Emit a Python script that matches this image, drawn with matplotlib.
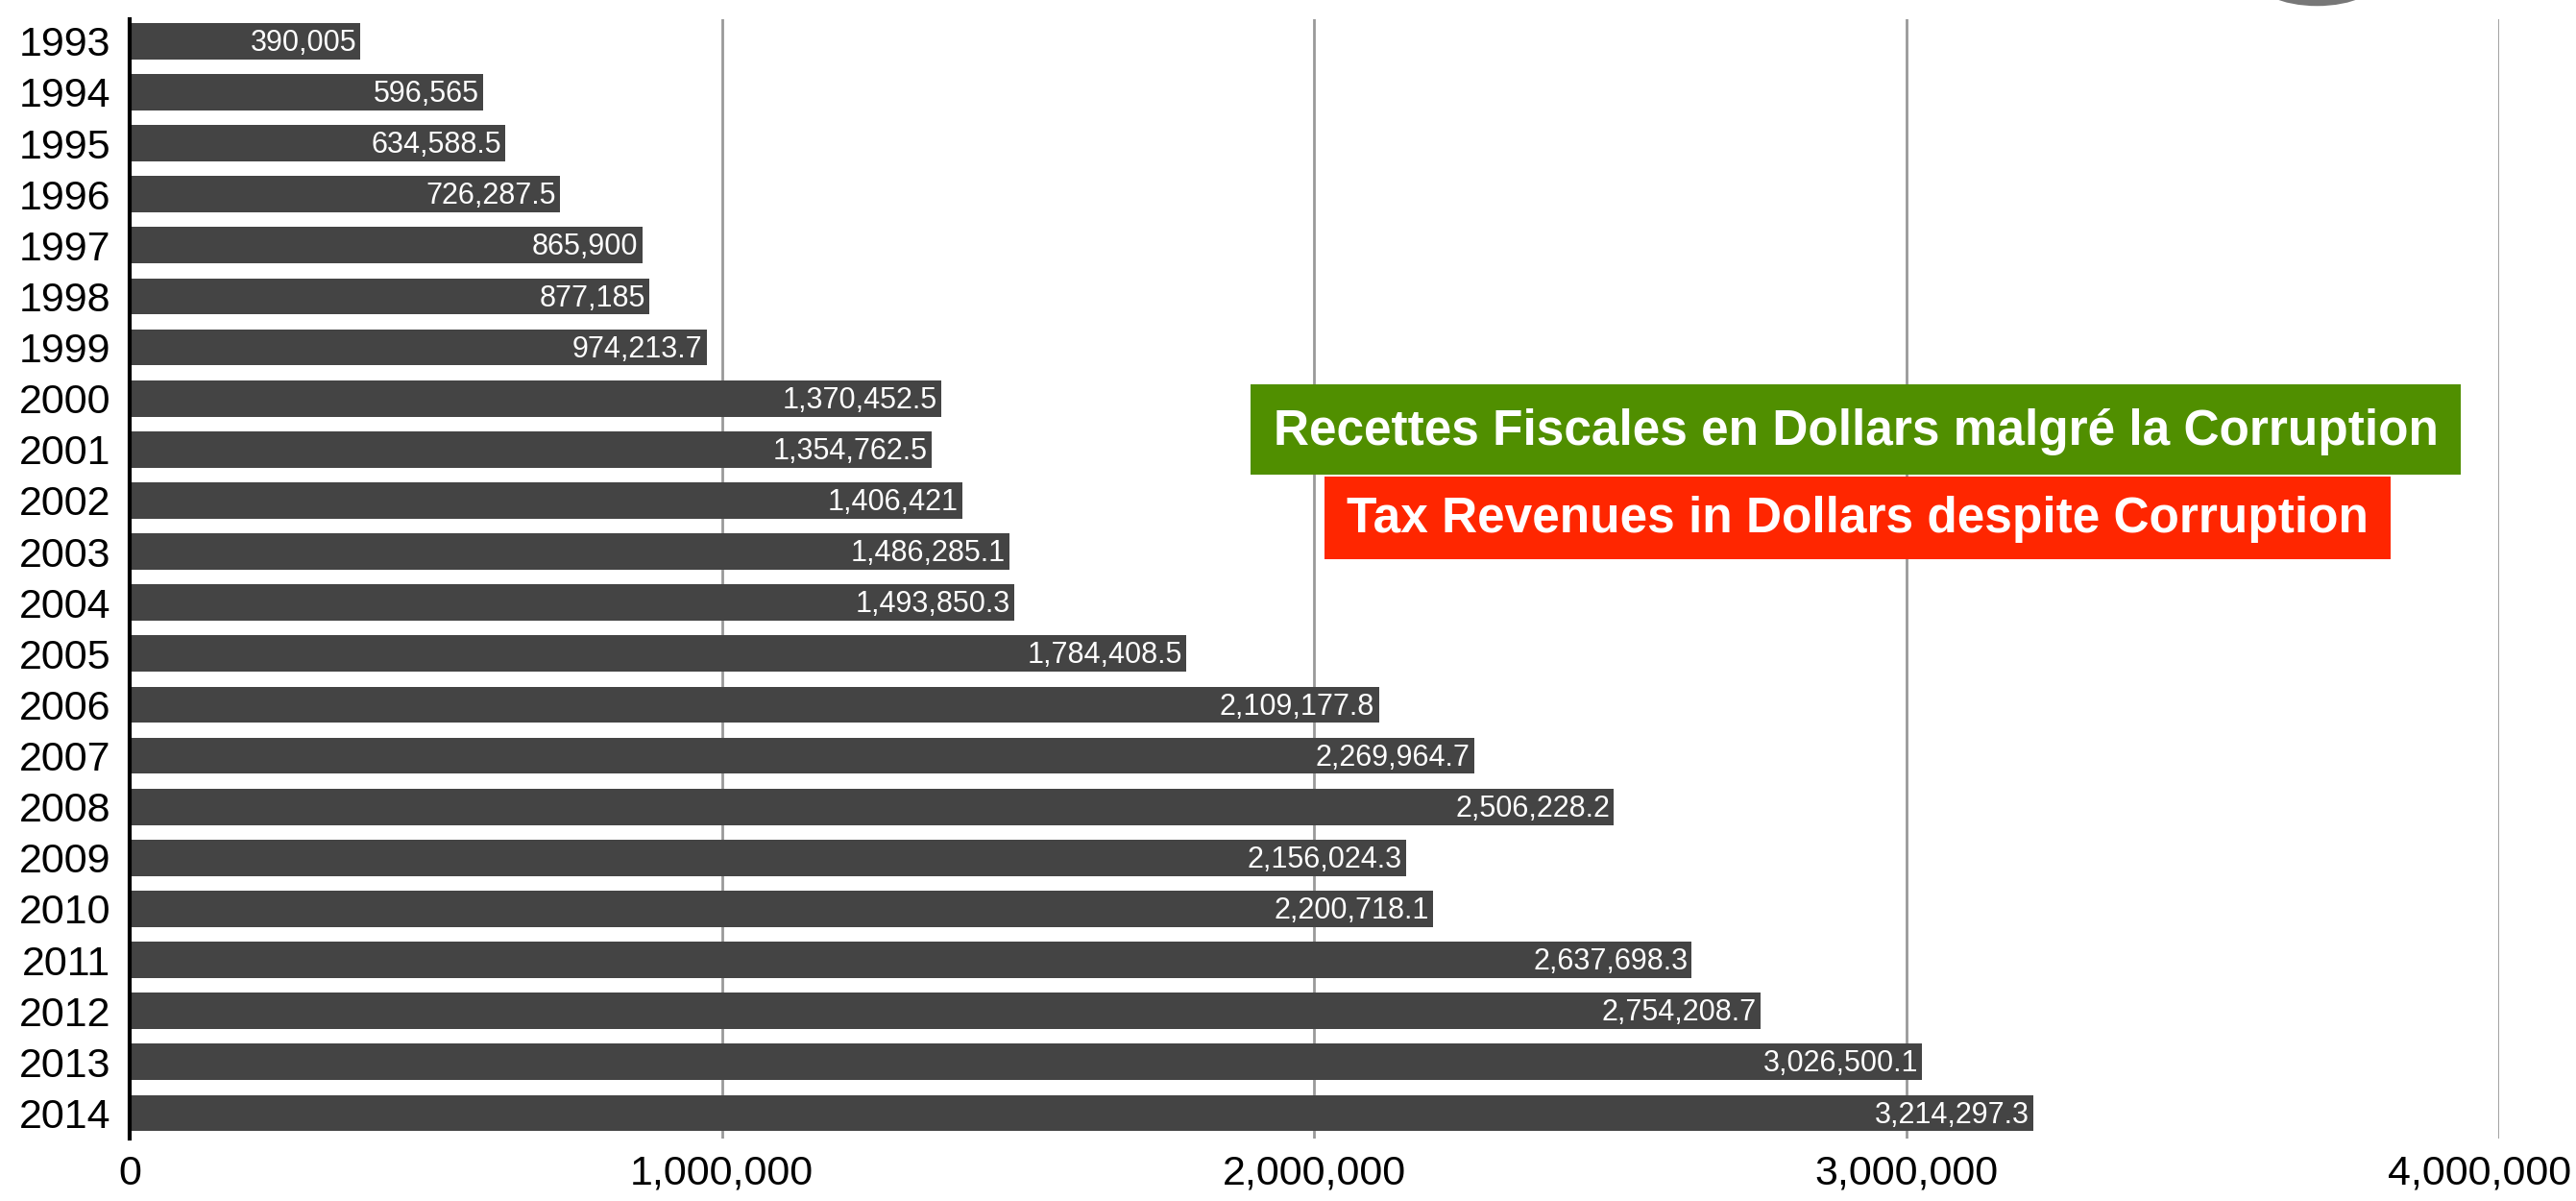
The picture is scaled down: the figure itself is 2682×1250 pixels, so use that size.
import matplotlib.pyplot as plt
from matplotlib.patches import Ellipse, Rectangle
from matplotlib.ticker import FuncFormatter
from matplotlib.transforms import ScaledTranslation

plt.rcParams['font.family'] = ['Liberation Sans', 'DejaVu Sans']

years = [str(y) for y in range(1993, 2015)]
revenues = [390005, 596565, 634588.5, 726287.5, 865900, 877185, 974213.7,
            1370452.5, 1354762.5, 1406421, 1486285.1, 1493850.3, 1784408.5,
            2109177.8, 2269964.7, 2506228.2, 2156024.3, 2200718.1, 2637698.3,
            2754208.7, 3026500.1, 3214297.3]
x_ticks = [0, 1000000, 2000000, 3000000, 4000000]

title_fr = "Recettes Fiscales en Dollars malgré la Corruption"
title_en = "Tax Revenues in Dollars despite Corruption"


def fmt_value(v):
    if float(v).is_integer():
        return f"{v:,.0f}"
    return f"{v:,.1f}"


def main():
    fig = plt.figure(figsize=(26.82, 12.5), dpi=100)
    ax = fig.add_axes([0.0503, 0.052, 0.9197, 0.932])

    pos = list(range(len(years)))
    ax.barh(pos, revenues, height=0.71, color='#444444', zorder=3)

    for p, v in zip(pos, revenues):
        ax.text(v - 7000, p + 0.04, fmt_value(v), ha='right', va='center',
                color='white', fontsize=22, zorder=4)

    ax.set_yticks(pos)
    ax.set_yticklabels(years, fontsize=31)
    ax.set_ylim(21.5, -0.43)
    ax.set_xlim(0, 4000000)
    ax.set_xticks(x_ticks)
    ax.xaxis.set_major_formatter(FuncFormatter(lambda v, _: f"{v:,.0f}"))
    ax.tick_params(axis='x', labelsize=31, length=0, pad=12)
    ax.tick_params(axis='y', length=0, pad=14)

    # last x label would run off the right edge: pin it to the edge instead
    last = ax.get_xticklabels()[-1]
    last.set_horizontalalignment('right')
    last.set_transform(last.get_transform() + ScaledTranslation(0.76, 0, fig.dpi_scale_trans))

    ax.grid(axis='x', color='#999999', linewidth=2, zorder=0)
    for s in ['top', 'right', 'bottom']:
        ax.spines[s].set_visible(False)
    ax.spines['left'].set_linewidth(3)
    ax.spines['left'].set_color('black')
    ax.spines['left'].set_zorder(5)

    # title boxes
    fig.patches.append(Rectangle((0.4855, 0.6048), 0.4698, 0.0752, transform=fig.transFigure,
                                 facecolor='#508F00', edgecolor='none', zorder=6))
    fig.patches.append(Rectangle((0.5142, 0.5344), 0.4138, 0.0688, transform=fig.transFigure,
                                 facecolor='#FF2600', edgecolor='none', zorder=6))
    fig.text(0.7204, 0.6405, title_fr, ha='center', va='center', color='white',
             fontsize=37, fontweight='bold', zorder=7)
    fig.text(0.7211, 0.5675, title_en, ha='center', va='center', color='white',
             fontsize=37, fontweight='bold', zorder=7)

    # grey shape peeking in at the top
    fig.patches.append(Ellipse((0.8995, 1.02), 0.05, 0.05, transform=fig.transFigure,
                               facecolor='#777777', edgecolor='none'))

    fig.savefig('out.png', dpi=100)


if __name__ == "__main__":
    main()
